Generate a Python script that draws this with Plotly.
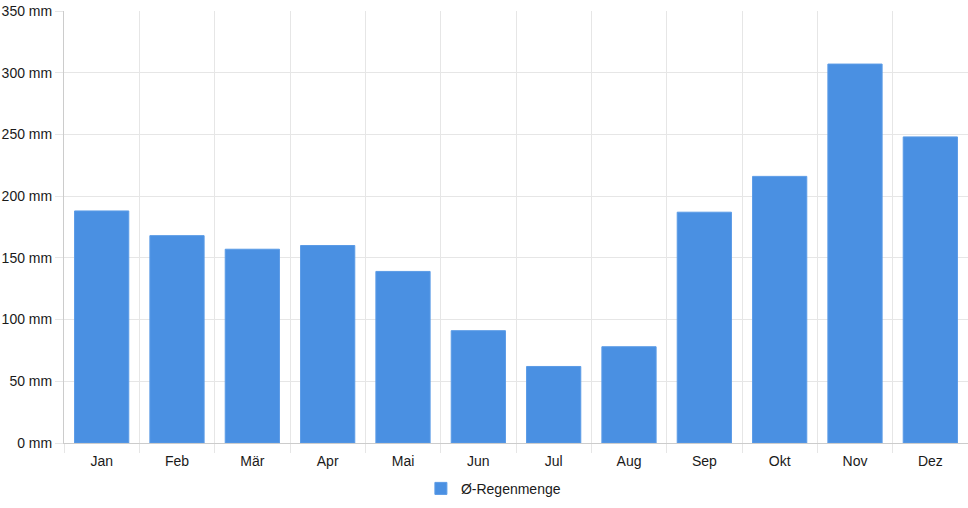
import plotly.graph_objects as go

months = ["Jan", "Feb", "Mär", "Apr", "Mai", "Jun", "Jul", "Aug", "Sep", "Okt", "Nov", "Dez"]
rain_mm = [188, 168, 157, 160, 139, 91, 62, 78, 187, 216, 307, 248]
y_ticks = [0, 50, 100, 150, 200, 250, 300, 350]
series_name = "Ø-Regenmenge"

BAR = "#4a90e2"
GRID = "#e6e6e6"
AXIS = "#cccccc"
TXT = "#1a1a1a"
FONT = "Liberation Sans, Arial, sans-serif"

idx = list(range(len(months)))
boundaries = [i - 0.5 for i in range(len(months) + 1)]

fig = go.Figure()
fig.add_trace(go.Bar(
    x=idx, y=rain_mm, name=series_name,
    marker=dict(color=BAR, line=dict(color="#5b9be6", width=1)),
    width=0.72,
))

fig.update_layout(
    width=968, height=508,
    margin=dict(l=64, r=0, t=11, b=65, autoexpand=False),
    paper_bgcolor="white", plot_bgcolor="white",
    font=dict(family=FONT, size=14, color=TXT),
    showlegend=True,
    legend=dict(orientation="h", x=0.475, xanchor="center", y=-0.106, yanchor="middle",
                font=dict(size=14, color=TXT)),
    xaxis=dict(tickmode="array", tickvals=idx, ticktext=months, showgrid=False, ticks="",
               showline=True, linecolor=AXIS, linewidth=1, range=[-0.5, len(months) - 0.5],
               zeroline=False, automargin=False, ticklabelstandoff=5,
               tickfont=dict(size=14, color=TXT),
               minor=dict(tickmode="array", tickvals=boundaries, showgrid=True,
                          gridcolor=GRID, gridwidth=1, ticks="outside", ticklen=9,
                          tickcolor=GRID)),
    yaxis=dict(range=[0, 350], tickmode="array", tickvals=y_ticks,
               ticktext=[f"{v} mm" for v in y_ticks], showgrid=True,
               gridcolor=GRID, gridwidth=1, zeroline=False, showline=True,
               linecolor=AXIS, linewidth=1, ticks="outside", ticklen=8, tickcolor=GRID,
               automargin=False, ticklabeloverflow="allow",
               tickfont=dict(size=14, color=TXT)),
)

fig.write_html("out.html", config={"displayModeBar": False},
               post_script="document.body.style.margin='0';document.body.style.overflow='hidden';")
